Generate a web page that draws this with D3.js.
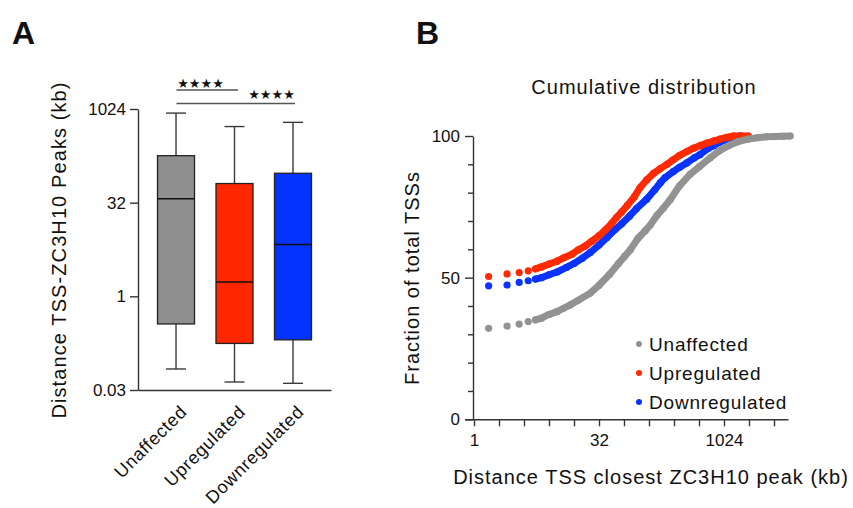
<!DOCTYPE html>
<html><head><meta charset="utf-8">
<script src="https://cdn.jsdelivr.net/npm/d3@7"></script>
<style>
body{margin:0;background:#fff}
svg{display:block}
text{font-family:"Liberation Sans",Arial,Helvetica,sans-serif;fill:#111}
</style>
</head><body>
<svg id="chart" width="853" height="508"></svg>
<script>
// ---------- Panel A data (box plot, kb, log2 axis) ----------
const boxCategories = ["Unaffected", "Upregulated", "Downregulated"];
const boxMin    = [0.068, 0.042, 0.040];
const boxQ1     = [0.36, 0.175, 0.20];
const boxMedian = [37, 1.7, 6.8];
const boxQ3     = [182, 65, 95];
const boxMax    = [880, 535, 625];
const boxColors = ["#8f8f8f", "#ff2600", "#0433ff"];
const boxTickValues = [0.03125, 1, 32, 1024];
const boxTickLabels = ["0.03", "1", "32", "1024"];
const sigPairs  = [[0, 1], [0, 2]];
const sigLabels = ["★★★★", "★★★★"];

// ---------- Panel B data (cumulative distribution) ----------
const cdfSeries = ["Unaffected", "Upregulated", "Downregulated"];
const cdfColors = ["#929292", "#ff2a00", "#0a33ff"];
const unaffectedKb  = [1.5, 2.5, 3.5, 4.5, 5.5, 6.5, 8, 10, 12, 14.3, 18, 25, 32, 43, 55, 65, 76, 95, 115, 132, 160, 190, 230, 300, 400, 520, 700, 900, 1200, 1500, 2000, 2600, 3300, 4200, 5200, 6400];
const unaffectedPct = [32.1, 32.9, 33.6, 34.5, 35.1, 35.7, 37.0, 38.0, 39.2, 40.3, 42.0, 44.5, 47.3, 51.2, 55.0, 57.5, 59.8, 64.0, 66.5, 68.5, 72.0, 74.5, 77.5, 82.5, 86.5, 89.2, 92.3, 94.8, 96.8, 98.0, 98.9, 99.4, 99.7, 99.8, 99.9, 100];
const upKb  = [1.5, 2.5, 3.5, 4.5, 5.5, 6.5, 8, 10, 12, 15, 18, 22, 26, 32, 38, 45, 52, 60, 70, 85, 100, 120, 145, 175, 210, 250, 300, 370, 440, 530, 640, 780, 920, 1100, 1330, 1700, 2000];
const upPct = [50.4, 51.3, 51.8, 52.4, 53.1, 53.8, 54.8, 55.8, 57.0, 58.2, 59.8, 61.2, 62.8, 64.8, 66.8, 69.0, 71.2, 73.2, 75.5, 78.5, 81.8, 84.5, 86.8, 88.5, 90.0, 91.6, 93.2, 94.6, 95.7, 96.6, 97.5, 98.3, 98.9, 99.5, 100, 100, 100];
const downKb  = [1.5, 2.5, 3.5, 4.5, 5.5, 6.5, 8, 10, 13, 16, 20, 25, 32, 40, 50, 60, 75, 90, 120, 150, 175, 200, 250, 300, 365, 450, 525, 650, 760, 900, 1100, 1300, 1600];
const downPct = [47.1, 47.4, 48.3, 48.9, 49.5, 50.0, 51.0, 52.0, 53.6, 55.0, 56.8, 58.8, 61.5, 64.2, 67.0, 69.0, 71.8, 74.3, 77.7, 81.0, 83.5, 85.3, 87.4, 89.0, 90.5, 92.3, 93.4, 95.5, 96.5, 97.8, 98.8, 99.5, 100];
const cdfXTickValues = [1, 2, 4, 8, 16, 32, 64, 128, 256, 512, 1024, 2048, 4096];
const cdfXTickLabels = { 1: "1", 32: "32", 1024: "1024" };
const cdfYMajor = [0, 50, 100];
const cdfYMinor = [10, 20, 30, 40, 60, 70, 80, 90];

const svg = d3.select("#chart");
const axisColor = "#333";

// ================= Panel A =================
svg.append("text").attr("x", 12).attr("y", 44)
  .style("font-size", "32px").style("font-weight", "bold").text("A");

const yA = d3.scaleLog().base(2).domain([Math.pow(2, -5), Math.pow(2, 10)]).range([390, 109]);
const xA = d3.scalePoint().domain(boxCategories).range([138, 331]).padding(0.65);
const boxW = 37, capW = 20;

const gA = svg.append("g");
const yAxisA = gA.append("g").attr("transform", "translate(138,0)")
  .call(d3.axisLeft(yA).tickValues(boxTickValues)
    .tickFormat((d, i) => boxTickLabels[i]).tickSize(8).tickSizeOuter(0).tickPadding(4));
const xAxisA = gA.append("g").attr("transform", "translate(0,390)")
  .call(d3.axisBottom(xA).tickSize(0).tickSizeOuter(0).tickFormat(""));
[yAxisA, xAxisA].forEach(a => {
  a.selectAll("path,line").attr("stroke", axisColor).attr("stroke-width", 1.4);
  a.selectAll("text").style("font-size", "17px").style("font-family", "'Liberation Sans',Arial,sans-serif").attr("fill", "#222");
});

boxCategories.forEach((c, i) => {
  const cx = xA(c);
  const g = gA.append("g");
  g.append("line").attr("x1", cx).attr("x2", cx).attr("y1", yA(boxMax[i])).attr("y2", yA(boxQ3[i]))
    .attr("stroke", "#3a3a3a").attr("stroke-width", 1.4);
  g.append("line").attr("x1", cx).attr("x2", cx).attr("y1", yA(boxQ1[i])).attr("y2", yA(boxMin[i]))
    .attr("stroke", "#3a3a3a").attr("stroke-width", 1.4);
  g.append("line").attr("x1", cx - capW / 2).attr("x2", cx + capW / 2).attr("y1", yA(boxMax[i])).attr("y2", yA(boxMax[i]))
    .attr("stroke", "#3a3a3a").attr("stroke-width", 1.4);
  g.append("line").attr("x1", cx - capW / 2).attr("x2", cx + capW / 2).attr("y1", yA(boxMin[i])).attr("y2", yA(boxMin[i]))
    .attr("stroke", "#3a3a3a").attr("stroke-width", 1.4);
  g.append("rect").attr("x", cx - boxW / 2).attr("width", boxW)
    .attr("y", yA(boxQ3[i])).attr("height", yA(boxQ1[i]) - yA(boxQ3[i]))
    .attr("fill", boxColors[i]).attr("stroke", "#222").attr("stroke-width", 1.3);
  g.append("line").attr("x1", cx - boxW / 2).attr("x2", cx + boxW / 2)
    .attr("y1", yA(boxMedian[i])).attr("y2", yA(boxMedian[i]))
    .attr("stroke", "#111").attr("stroke-width", 1.4);
  gA.append("text").attr("transform", `translate(${cx + 12},413) rotate(-45)`)
    .attr("text-anchor", "end").style("font-size", "18px").style("letter-spacing", "0.7px").text(c);
});

// significance
const sigY = [90, 103.5];
const sigTextX = [200.5, 271.5];
const sigTextY = [87.5, 99];
const sigEndPad = [3.5, 2];
sigPairs.forEach((p, k) => {
  gA.append("line").attr("x1", xA(boxCategories[p[0]]) + 0.5).attr("x2", xA(boxCategories[p[1]]) + sigEndPad[k])
    .attr("y1", sigY[k]).attr("y2", sigY[k]).attr("stroke", "#555").attr("stroke-width", 1.4);
  gA.append("text").attr("x", sigTextX[k]).attr("y", sigTextY[k]).attr("text-anchor", "middle")
    .style("font-family", "'DejaVu Sans',sans-serif").style("font-size", "13px")
    .style("letter-spacing", "0px").attr("fill", "#1a1a1a").text(sigLabels[k]);
});

svg.append("text").attr("transform", "translate(66,250) rotate(-90)").attr("text-anchor", "middle")
  .style("font-size", "20px").style("letter-spacing", "1.1px").text("Distance TSS-ZC3H10 Peaks (kb)");

// ================= Panel B =================
svg.append("text").attr("x", 416).attr("y", 44)
  .style("font-size", "32px").style("font-weight", "bold").text("B");
svg.append("text").attr("x", 644).attr("y", 94).attr("text-anchor", "middle")
  .style("font-size", "20px").style("letter-spacing", "1px").text("Cumulative distribution");

const xB = d3.scaleLog().base(2).domain([Math.pow(2, -0.36), Math.pow(2, 12.56)]).range([465, 788]);
const yB = d3.scaleLinear().domain([0, 100]).range([419.3, 136]);
const gB = svg.append("g");

const xAxisB = gB.append("g").attr("transform", "translate(0,419.3)")
  .call(d3.axisBottom(xB).tickValues(cdfXTickValues).tickFormat(d => cdfXTickLabels[d] || "")
    .tickSize(7).tickSizeOuter(0).tickPadding(8));
const yAxisB = gB.append("g").attr("transform", "translate(473,0)")
  .call(d3.axisLeft(yB).tickValues(cdfYMajor).tickSize(8).tickSizeOuter(0).tickPadding(5));
const yAxisBMinor = gB.append("g").attr("transform", "translate(473,0)")
  .call(d3.axisLeft(yB).tickValues(cdfYMinor).tickSize(5).tickSizeOuter(0).tickFormat(""));
yAxisBMinor.select(".domain").remove();
[xAxisB, yAxisB, yAxisBMinor].forEach(a => {
  a.selectAll("path,line").attr("stroke", axisColor).attr("stroke-width", 1.4);
  a.selectAll("text").style("font-size", "17px").style("font-family", "'Liberation Sans',Arial,sans-serif").attr("fill", "#222");
});

const seriesData = [
  { kb: unaffectedKb, pct: unaffectedPct, color: cdfColors[0] },
  { kb: downKb, pct: downPct, color: cdfColors[2] },
  { kb: upKb, pct: upPct, color: cdfColors[1] }
];
const drawOrder = [1, 2, 0];
const line = d3.line().x(d => xB(d[0])).y(d => yB(d[1])).curve(d3.curveLinear);
drawOrder.forEach(si => {
  const s = seriesData[si];
  const pts = s.kb.map((k, i) => [k, s.pct[i]]);
  gB.append("path").datum(pts.slice(4)).attr("d", line)
    .attr("fill", "none").attr("stroke", s.color).attr("stroke-width", 7)
    .attr("stroke-linecap", "round").attr("stroke-linejoin", "round");
  gB.selectAll(null).data(pts).enter().append("circle")
    .attr("cx", d => xB(d[0])).attr("cy", d => yB(d[1])).attr("r", 3.6).attr("fill", s.color);
});

const legY = [344, 373, 402];
cdfSeries.forEach((n, i) => {
  gB.append("circle").attr("cx", 639).attr("cy", legY[i]).attr("r", 3).attr("fill", cdfColors[i]);
  gB.append("text").attr("x", 649).attr("y", legY[i]).attr("dy", "0.35em")
    .style("font-size", "19px").style("letter-spacing", "0.8px").text(n);
});

svg.append("text").attr("transform", "translate(419,278) rotate(-90)").attr("text-anchor", "middle")
  .style("font-size", "20px").style("letter-spacing", "1px").text("Fraction of total TSSs");
svg.append("text").attr("x", 651).attr("y", 484).attr("text-anchor", "middle")
  .style("font-size", "20px").style("letter-spacing", "1px").text("Distance TSS closest ZC3H10 peak (kb)");
</script>
</body></html>
